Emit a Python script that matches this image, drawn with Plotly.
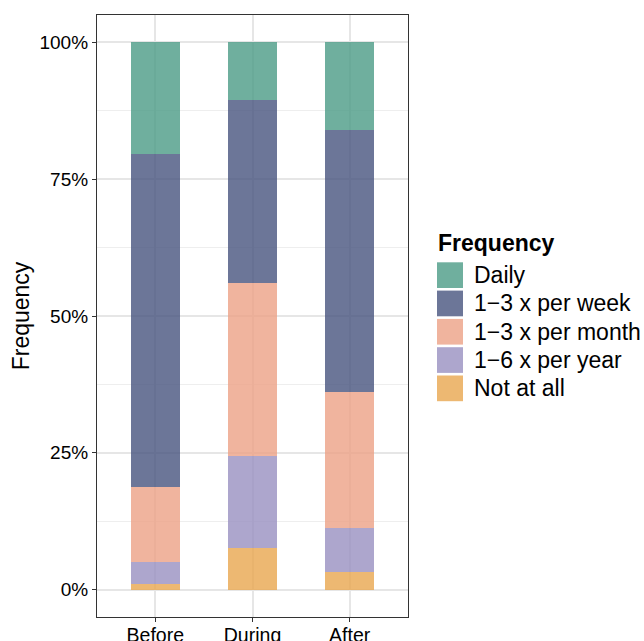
import plotly.graph_objects as go

# ---- data ----
periods = ["Before", "During", "After"]
levels = ["Not at all", "1\u22126 x per year", "1\u22123 x per month", "1\u22123 x per week", "Daily"]
not_at_all = [0.011, 0.077, 0.033]
per_year = [0.040, 0.168, 0.079]
per_month = [0.136, 0.315, 0.249]
per_week = [0.609, 0.335, 0.478]
daily = [0.204, 0.105, 0.161]
series = [not_at_all, per_year, per_month, per_week, daily]
colors = ["rgba(232,166,79,0.8)", "rgba(152,144,193,0.8)", "rgba(236,161,134,0.8)",
          "rgba(71,84,126,0.8)", "rgba(75,155,134,0.8)"]
legend_order = ["Daily", "1\u22123 x per week", "1\u22123 x per month", "1\u22126 x per year", "Not at all"]
y_ticks = [0, 0.25, 0.5, 0.75, 1.0]

W, H = 644, 641
L, R, T, B = 97, 408, 15, 617

fig = go.Figure()
for name, vals, col in zip(levels, series, colors):
    fig.add_trace(go.Bar(x=periods, y=vals, name=name, width=0.5,
                         marker=dict(color=col, line=dict(width=0)),
                         showlegend=False))

def px_x(px):
    return (px - L) / (R - L)

def px_y(py):
    return (B - py) / (B - T)

font = "Liberation Sans, Arial, sans-serif"
shapes = []
annotations = [dict(x=px_x(436), y=px_y(243), xref="paper", yref="paper", text="<b>Frequency</b>",
                    showarrow=False, xanchor="left", yanchor="middle",
                    font=dict(family=font, size=23, color="black"))]
col_map = dict(zip(levels, colors))
for i, name in enumerate(legend_order):
    top = 262.3 + i * 28.3
    bot = top + 25.7
    shapes.append(dict(type="rect", xref="paper", yref="paper",
                       x0=px_x(437), x1=px_x(463), y0=px_y(bot), y1=px_y(top),
                       fillcolor=col_map[name], line=dict(width=0), layer="above"))
    annotations.append(dict(x=px_x(472), y=px_y((top + bot) / 2), xref="paper", yref="paper",
                            text=name, showarrow=False, xanchor="left", yanchor="middle",
                            font=dict(family=font, size=23, color="black")))

fig.update_layout(
    width=W, height=H,
    margin=dict(l=L, r=W - R, t=T, b=H - B, autoexpand=False),
    barmode="stack", bargap=0,
    plot_bgcolor="white", paper_bgcolor="white",
    font=dict(family=font, color="black"),
    shapes=shapes, annotations=annotations,
    xaxis=dict(range=[-0.6, 2.6], showgrid=True, gridcolor="#E6E6E6", gridwidth=1.5,
               showline=True, mirror=True, linecolor="#333333", linewidth=1.2,
               ticks="outside", ticklen=4, tickwidth=1.2, tickcolor="#333333", automargin=False,
               ticklabelstandoff=-4,
               tickfont=dict(size=19.5, color="black", family=font), zeroline=False),
    yaxis=dict(range=[-0.05, 1.05], tickvals=y_ticks, tickformat=".0%",
               showgrid=True, gridcolor="#E6E6E6", gridwidth=1.5, automargin=False,
               minor=dict(dtick=0.125, tick0=0, showgrid=True, gridcolor="#EEEEEE", gridwidth=0.8, ticks=""),
               showline=True, mirror=True, linecolor="#333333", linewidth=1.2,
               ticks="outside", ticklen=4, tickwidth=1.2, tickcolor="#333333",
               tickfont=dict(size=19, color="black", family=font), zeroline=False,
               title=dict(text="Frequency", font=dict(size=23, color="black", family=font), standoff=3)),
)

fig.write_html("out.html", config={"displayModeBar": False},
               post_script="document.body.style.margin='0';")
